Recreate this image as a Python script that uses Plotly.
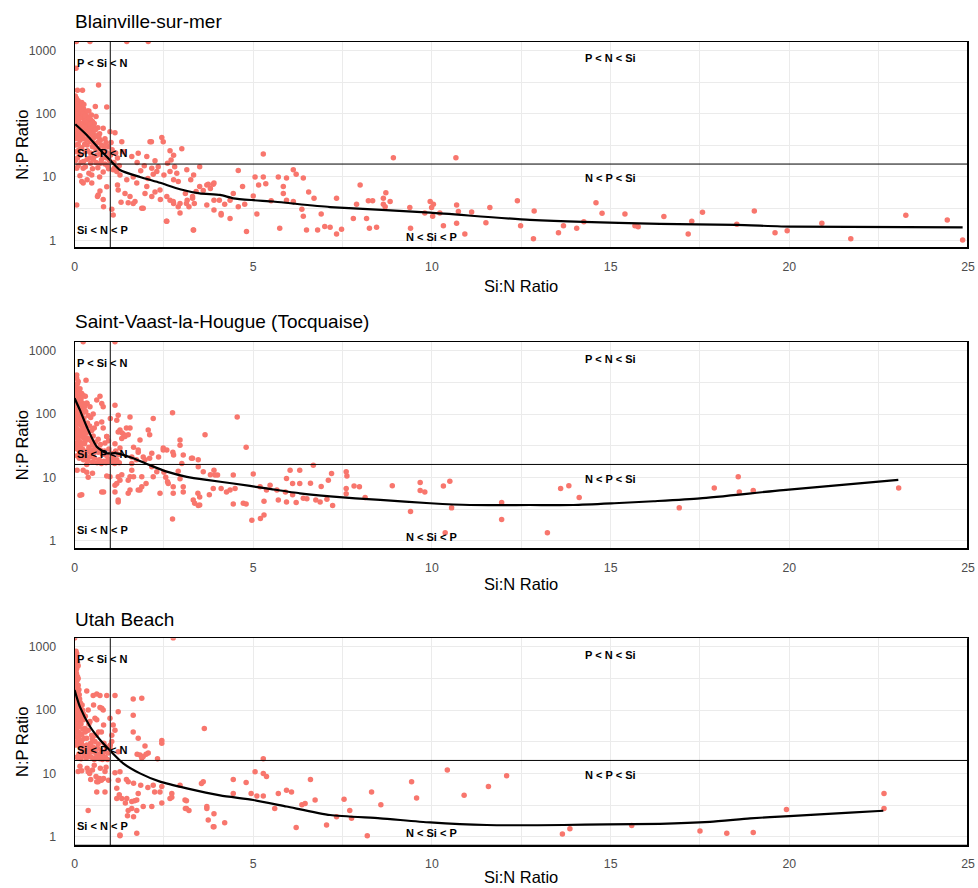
import numpy as np
import plotly.graph_objects as go

# ---------------- data ----------------
panel_titles = ["Blainville-sur-mer", "Saint-Vaast-la-Hougue (Tocquaise)", "Utah Beach"]
x_title = "Si:N Ratio"
y_title = "N:P Ratio"
x_major = [0, 5, 10, 15, 20, 25]
x_minor = [2.5, 7.5, 12.5, 17.5, 22.5]
y_major = [1, 10, 100, 1000]
y_minor = [3.162, 31.62, 316.2]
redfield_np = 16
redfield_sin = 1
zone_labels = ["P < Si < N", "Si < P < N", "Si < N < P", "P < N < Si", "N < P < Si", "N < Si < P"]
zone_x = [0.77, 0.77, 0.77, 15.0, 15.0, 10.0]
zone_y = [640, 23.7, 1.46, 750, 9.5, 1.14]

blainville_points = [
    (0.05, 1380), (0.43, 1380), (1.46, 1380), (2.06, 1380),
    (0.04, 520), (0.67, 285), (0.08, 235), (0.22, 235),
    (0.02, 190), (0.05, 175), (0.10, 160), (0.03, 150), (0.08, 140), (0.15, 130), (0.20, 150), (0.25, 120), (0.05, 115), (0.12, 110),
    (0.30, 105), (0.02, 100), (0.18, 95), (0.35, 90), (0.40, 110), (0.07, 88), (0.27, 82), (0.45, 80), (0.10, 78), (0.50, 75),
    (0.15, 72), (0.22, 68), (0.33, 65), (0.04, 62), (0.60, 90), (0.58, 130), (0.90, 128), (0.55, 70), (0.40, 60), (0.30, 58),
    (0.12, 55), (0.65, 60), (0.48, 55), (0.20, 50), (0.80, 59), (0.99, 52), (1.13, 50), (0.70, 48), (0.38, 45), (0.06, 45),
    (0.55, 42), (0.25, 40), (0.85, 40), (0.15, 38), (0.45, 36), (0.65, 35), (1.32, 36), (0.10, 33), (0.35, 32), (0.75, 32),
    (0.95, 30), (0.50, 30), (0.20, 29), (0.60, 27), (0.85, 26), (1.05, 27), (0.30, 25), (0.05, 25), (0.45, 24), (0.70, 23),
    (1.00, 22), (0.15, 22), (0.55, 21), (0.90, 20), (1.20, 20), (0.35, 19), (0.75, 18.5), (0.02, 18), (0.25, 17.5), (0.60, 17),
    (1.10, 17), (0.45, 16.5), (0.85, 16), (0.10, 15), (0.30, 14.5), (0.65, 14), (0.95, 13.5), (0.06, 13.7), (0.24, 13.7), (0.50, 13.5),
    (1.08, 13), (1.18, 12.2), (0.80, 12), (0.40, 11.5), (0.48, 10.7), (0.15, 10.5), (0.70, 10), (0.24, 8), (0.06, 3.6), (0.20, 8.5),
    (0.66, 5.2), (0.80, 4.4), (0.71, 6.0), (0.64, 4.9), (0.81, 3.4), (1.04, 3.1), (1.08, 2.5), (0.90, 7), (0.48, 8), (0.35, 9),
    (1.22, 6.2), (1.27, 10.7), (1.46, 9.0), (1.41, 5.5), (1.55, 4.9), (1.69, 4.1), (1.88, 3.2), (1.64, 10), (1.37, 25), (1.60, 21),
    (1.78, 23.6), (1.74, 8), (1.64, 3.8), (1.92, 3.2), (1.30, 4.0), (1.50, 3.9), (1.20, 7.5),
    (0.03, 85), (0.08, 70), (0.12, 95), (0.18, 120), (0.06, 130), (0.14, 60), (0.22, 90), (0.28, 75), (0.04, 40), (0.09, 50),
    (0.17, 45), (0.26, 55), (0.32, 48), (0.38, 70), (0.42, 38), (0.52, 48), (0.58, 33), (0.62, 45), (0.68, 28), (0.72, 38),
    (0.78, 25), (0.82, 30), (0.88, 35), (0.92, 24), (0.98, 18), (1.02, 35), (1.15, 24), (1.25, 15), (0.12, 27), (0.28, 33),
    (0.36, 26), (0.42, 20), (0.52, 19), (0.62, 22), (0.72, 16.5), (0.78, 20), (0.92, 15), (1.12, 14), (0.18, 17), (0.08, 20),
    (0.01, 120), (0.04, 105), (0.07, 98), (0.11, 125), (0.14, 85), (0.17, 105), (0.23, 100), (0.26, 140), (0.29, 92), (0.32, 78),
    (0.36, 110), (0.41, 85), (0.44, 68), (0.47, 95), (0.53, 62), (0.02, 70), (0.06, 58), (0.10, 65), (0.19, 58), (0.24, 47),
    (0.28, 62), (0.34, 38), (0.39, 52), (0.44, 45), (0.52, 35), (0.01, 48), (0.03, 32), (0.13, 42), (0.58, 55), (0.68, 42),
    (2.02, 21), (2.11, 36), (2.44, 42), (2.48, 36), (2.15, 36), (3.00, 28), (2.67, 26), (2.77, 22), (2.70, 18.5), (2.60, 16.5),
    (2.80, 14.5), (2.34, 14.5), (2.16, 13.7), (2.30, 12.2), (2.50, 10.7), (2.67, 12.2), (2.77, 9.0), (2.86, 11.5), (2.90, 8.5), (3.14, 13),
    (3.33, 10.7), (3.25, 9.0), (3.50, 14.5), (3.70, 7.5), (3.80, 6.6), (3.90, 8.0), (2.39, 6.2), (2.58, 4.9), (2.67, 4.3), (2.77, 3.8),
    (3.10, 5.5), (3.15, 4.3), (3.20, 3.4), (3.30, 4.9), (3.35, 3.8), (2.95, 2.7), (2.90, 3.4), (2.58, 2.0), (3.33, 1.45), (2.02, 7.1),
    (1.97, 5.5), (2.16, 4.9), (2.25, 5.8), (2.40, 4.4), (2.05, 9.5), (2.20, 11), (1.85, 12.5), (1.95, 15), (2.25, 18), (1.75, 17),
    (4.58, 12.6), (5.05, 10), (5.28, 10), (5.15, 7.5), (5.35, 7.8), (5.70, 10), (5.93, 9.6), (5.84, 7.1), (5.84, 5.5), (6.12, 13),
    (6.20, 11), (5.93, 4.3), (6.12, 4.1), (6.40, 9.6), (6.36, 3.1), (6.40, 2.4), (5.74, 1.55), (5.10, 2.6), (4.58, 3.4), (4.81, 1.37),
    (6.49, 1.45), (6.80, 1.45), (7.00, 1.65), (6.90, 2.6), (3.90, 3.0), (4.10, 2.66), (4.35, 4.3), (4.44, 5.5), (4.70, 7.1), (4.76, 3.7),
    (3.50, 7.1), (3.60, 6.1), (3.74, 7.7), (3.88, 7.7), (2.76, 4.1), (2.95, 3.8), (3.13, 3.8), (3.30, 4.6), (3.40, 5.9), (3.70, 3.6),
    (3.90, 4.3), (4.05, 4.3), (4.20, 3.7), (5.28, 23), (4.10, 2.5), (4.35, 2.2), (2.57, 2.0), (3.32, 1.45), (6.55, 5.8), (6.70, 4.6),
    (5.50, 4.2), (5.00, 5.0),
    (8.92, 20.2), (10.67, 20.2), (7.99, 7.5), (7.33, 4.6), (7.89, 3.7), (8.22, 4.2), (8.34, 4.2), (8.64, 4.6), (8.71, 5.65), (8.83, 4.1),
    (8.64, 3.7), (8.69, 3.4), (7.80, 2.2), (8.17, 2.2), (8.25, 1.55), (8.45, 1.6), (7.15, 1.6), (7.47, 1.5), (7.33, 1.26), (9.38, 3.3),
    (9.40, 1.55), (9.95, 4.1), (10.04, 3.7), (9.99, 3.3), (9.80, 2.7), (10.02, 2.4), (10.22, 2.7), (10.32, 1.7), (10.69, 3.6), (10.74, 2.85),
    (10.69, 1.85), (10.92, 1.26), (11.11, 2.8), (11.51, 1.9), (11.62, 3.3), (12.39, 4.2), (12.48, 1.7), (12.86, 2.9), (12.84, 1.06), (13.54, 1.32),
    (13.68, 1.7), (14.05, 1.55), (14.25, 1.97), (14.59, 3.9), (14.76, 2.67), (15.40, 2.6), (15.68, 1.7), (15.77, 1.64),
    (16.49, 2.37), (17.17, 1.26), (17.27, 2.0), (17.57, 2.77), (18.53, 1.79), (19.02, 2.9), (19.60, 1.32), (19.94, 1.42), (20.91, 1.85), (21.72, 1.06),
    (23.26, 2.48), (24.42, 2.09), (24.85, 1.01),
]
blainville_smooth = [
    (0.02, 68), (0.34, 46), (0.71, 27), (0.99, 18.5), (1.27, 12.9), (1.83, 10), (2.39, 8.1), (2.95, 6.4), (3.5, 5.5),
    (4.07, 5.2), (4.44, 4.6), (5.0, 4.3), (5.56, 4.1), (6.12, 3.8), (7.15, 3.35), (9.95, 2.73), (12.74, 2.1),
    (16.38, 1.81), (18.5, 1.75), (20.1, 1.64), (24.85, 1.6),
]

stvaast_points = [
    (0.24, 1380), (1.13, 1380),
    (0.06, 365), (0.10, 325), (0.32, 340), (0.06, 415), (0.08, 300),
    (0.02, 280), (0.05, 260), (0.08, 240), (0.12, 225), (0.15, 250), (0.20, 210), (0.25, 195), (0.03, 200), (0.10, 185), (0.18, 175),
    (0.30, 190), (0.05, 170), (0.14, 160), (0.22, 150), (0.35, 145), (0.08, 140), (0.28, 130), (0.62, 166), (0.34, 150), (0.43, 130),
    (0.71, 190), (0.76, 147), (0.80, 130),
    (0.02, 125), (0.06, 115), (0.11, 105), (0.16, 98), (0.21, 90), (0.26, 85), (0.31, 110), (0.38, 95), (0.45, 88), (0.52, 100),
    (0.03, 80), (0.09, 75), (0.14, 70), (0.19, 66), (0.24, 62), (0.30, 58), (0.36, 72), (0.42, 65), (0.48, 55), (0.55, 60),
    (0.62, 70), (0.76, 75), (0.80, 60), (0.90, 44), (0.05, 52), (0.12, 48), (0.18, 45), (0.25, 42), (0.33, 50), (0.40, 40),
    (0.46, 38), (0.52, 45), (0.58, 36), (0.66, 40), (0.72, 33), (0.85, 35), (0.95, 38),
    (0.04, 35), (0.10, 32), (0.16, 30), (0.22, 28), (0.28, 34), (0.34, 26), (0.40, 30), (0.47, 27), (0.53, 24), (0.60, 29),
    (0.66, 25), (0.72, 27), (0.78, 23), (0.84, 26), (0.90, 22), (0.96, 28), (1.02, 24), (1.08, 21), (1.15, 26), (1.22, 23),
    (0.07, 22), (0.13, 20), (0.19, 24), (0.25, 19), (0.31, 22), (0.37, 18), (0.43, 21), (0.50, 17.5), (0.56, 20), (0.63, 17),
    (0.69, 19), (0.75, 16.5), (0.82, 18), (0.88, 17), (0.94, 19.5), (1.00, 17.5), (1.06, 18.5), (1.12, 16.5), (1.18, 19), (1.25, 17),
    (0.01, 230), (0.04, 215), (0.07, 205), (0.11, 200), (0.16, 215), (0.03, 180), (0.06, 155), (0.09, 165), (0.12, 150), (0.17, 140),
    (0.01, 140), (0.04, 130), (0.07, 120), (0.10, 128), (0.13, 115), (0.17, 110), (0.20, 120), (0.23, 105), (0.01, 100), (0.04, 95),
    (0.07, 88), (0.10, 92), (0.13, 82), (0.16, 78), (0.20, 72), (0.25, 70), (0.01, 68), (0.04, 62), (0.07, 58), (0.10, 55),
    (0.14, 52), (0.20, 55), (0.27, 48), (0.01, 45), (0.06, 42), (0.10, 40), (0.16, 36), (0.22, 34), (0.30, 38), (0.36, 42),
    (0.01, 30), (0.07, 28), (0.13, 26), (0.20, 25), (0.27, 22), (0.35, 20), (0.43, 25), (0.50, 33), (0.56, 28),
    (1.13, 138), (1.18, 80), (1.55, 90), (1.27, 56), (1.33, 50), (1.38, 47), (1.41, 44), (1.45, 60), (1.22, 96), (1.00, 85),
    (1.22, 52), (1.32, 41), (1.55, 60), (1.50, 47), (2.20, 85), (2.06, 56), (2.10, 47), (2.74, 105), (2.95, 39), (2.95, 32),
    (3.65, 47), (1.83, 39), (1.78, 25), (2.16, 24), (1.97, 19), (2.10, 20), (2.35, 21), (2.58, 27), (2.77, 22.5), (3.04, 22.5),
    (3.27, 20), (3.46, 19), (3.30, 20), (1.78, 27), (1.65, 30), (1.60, 21), (1.73, 19), (1.92, 21), (2.48, 27), (2.48, 29),
    (2.75, 25), (3.00, 16.6), (4.55, 90), (4.80, 30), (1.13, 34), (1.27, 29), (0.90, 44),
    (0.07, 13), (0.34, 12), (0.38, 10), (0.50, 11.6), (0.81, 5.9), (0.20, 5.3), (0.15, 5.2), (1.22, 4.4), (1.50, 5.6), (1.32, 11),
    (1.55, 10.2), (1.27, 9), (1.83, 6.3), (1.88, 7.1), (1.55, 6.3), (2.39, 5.6), (2.50, 12), (2.55, 10), (2.60, 8.5), (2.90, 12.5),
    (2.95, 9.5), (3.45, 5.6), (3.50, 4.9), (3.36, 3.9), (3.50, 3.65), (2.74, 2.2), (3.80, 11), (3.90, 13), (0.24, 13), (0.34, 16),
    (0.99, 10.2), (0.90, 10.5), (1.13, 7.5), (1.22, 10.2), (1.18, 8), (1.13, 5.9), (1.22, 4.1), (0.76, 5.9), (1.60, 16.6), (1.60, 13),
    (1.65, 10.2), (1.50, 9), (2.16, 14.7), (2.30, 12.3), (2.20, 10.2), (2.00, 8), (1.88, 10.2), (1.78, 6.3), (3.46, 14.7), (3.60, 12.3),
    (3.93, 10.9), (4.00, 10.9), (4.44, 10.9), (5.00, 11.3), (5.47, 7.5), (5.19, 7.1), (5.37, 6.3), (4.49, 6.7), (4.72, 3.9), (4.44, 3.8),
    (4.80, 3.8), (4.96, 2.1), (5.20, 2.25), (5.30, 2.55), (3.46, 3.6), (3.32, 4.4), (3.04, 5.9), (3.04, 7.1), (2.62, 8), (2.76, 7.1),
    (2.76, 5.6), (3.77, 5.3), (3.88, 6.7), (4.10, 6.7), (4.25, 5.9), (4.35, 6.3), (6.03, 13), (6.30, 13), (6.68, 15.6), (5.93, 9.6),
    (6.10, 8), (6.30, 8), (5.90, 5.9), (6.10, 5.3), (6.40, 4.7), (6.75, 4.4), (7.06, 4.5), (5.70, 4.4), (5.93, 4.1), (6.20, 4.0),
    (6.50, 4.6), (5.66, 6.3), (6.87, 4.1), (7.10, 9), (6.90, 7.2), (6.60, 8.1), (5.30, 4.2),
    (7.19, 11.5), (7.60, 12.3), (7.62, 10.5), (7.60, 6.7), (7.60, 5.5), (7.82, 7.3), (7.97, 7.1), (8.13, 4.8), (7.22, 3.6), (8.89, 7.4),
    (9.67, 8.3), (9.67, 6.2), (9.80, 5.9), (9.40, 2.9), (10.32, 7.3), (10.50, 8.7), (10.55, 3.3), (10.37, 1.34), (11.95, 4.0), (11.95, 2.17),
    (13.23, 1.34), (13.60, 6.7), (13.83, 7.4), (14.12, 4.8), (16.92, 3.3), (17.90, 6.8), (18.57, 10.2), (18.60, 5.9), (18.99, 6.2), (23.06, 6.8),
]
stvaast_smooth = [
    (0.0, 177), (0.15, 115), (0.34, 63), (0.62, 30.5), (0.9, 24), (1.18, 24), (1.64, 20), (2.1, 15.6), (2.58, 12.3),
    (3.14, 10.2), (3.7, 9.1), (4.44, 8.0), (5.37, 6.7), (6.3, 5.6), (7.15, 5.0), (8.55, 4.4), (9.95, 3.9), (11.06, 3.66),
    (12.74, 3.66), (13.96, 3.66), (15.1, 3.9), (16.2, 4.2), (17.5, 4.66), (19.83, 6.3), (23.05, 9.1),
]

utah_points = [
    (0.00, 1380), (2.76, 1380),
    (0.06, 780), (0.04, 850), (0.04, 700), (0.05, 640), (0.08, 560), (0.10, 500), (0.06, 455), (0.04, 430), (0.02, 355), (0.10, 315),
    (0.03, 280), (0.07, 295), (0.10, 247),
    (0.02, 220), (0.05, 200), (0.09, 190), (0.13, 175), (0.03, 165), (0.07, 150), (0.11, 140), (0.16, 130), (0.21, 120), (0.04, 120),
    (0.08, 110), (0.13, 100), (0.18, 95), (0.24, 88), (0.02, 90), (0.06, 80), (0.10, 74), (0.15, 70), (0.20, 78),
    (0.01, 600), (0.03, 520), (0.02, 400), (0.05, 380), (0.08, 340), (0.01, 300), (0.05, 260), (0.08, 230), (0.12, 210), (0.01, 180),
    (0.05, 160), (0.09, 160), (0.14, 150), (0.01, 140), (0.05, 130), (0.10, 125), (0.16, 110), (0.22, 100), (0.01, 110), (0.04, 100),
    (0.08, 92), (0.12, 85), (0.17, 80), (0.25, 70), (0.30, 80), (0.01, 75), (0.04, 65), (0.08, 60), (0.12, 55), (0.18, 60),
    (0.23, 50), (0.30, 45), (0.38, 48), (0.02, 52), (0.06, 48), (0.11, 45), (0.20, 42), (0.27, 36), (0.02, 38), (0.07, 32),
    (0.12, 29), (0.16, 26), (0.23, 23), (0.30, 21), (0.45, 30), (0.50, 35), (0.60, 40), (0.75, 45), (0.40, 60),
    (0.34, 200), (0.52, 170), (0.62, 180), (0.71, 170), (0.90, 170), (1.13, 170), (0.76, 107), (1.22, 94), (0.53, 120), (0.57, 74),
    (0.43, 66), (0.99, 74), (0.81, 58), (0.67, 45), (0.48, 40), (0.57, 32), (0.29, 51), (0.15, 40), (0.34, 36), (0.38, 100),
    (0.62, 70), (0.71, 110), (0.80, 100), (1.08, 58), (1.13, 48), (1.04, 40), (1.64, 150), (1.88, 153), (1.64, 83), (1.64, 45),
    (1.78, 36), (1.97, 27), (2.44, 33), (2.44, 30), (2.32, 17), (3.63, 51), (1.22, 22), (1.04, 32), (1.00, 28), (0.99, 25),
    (0.04, 45), (0.09, 38), (0.14, 34), (0.19, 30), (0.24, 27), (0.29, 25), (0.34, 28), (0.39, 23), (0.44, 26), (0.49, 22),
    (0.54, 24), (0.59, 21), (0.64, 25), (0.69, 20), (0.74, 23), (0.79, 19), (0.84, 22), (0.89, 26), (0.94, 21), (0.06, 18),
    (0.12, 20), (0.18, 17), (0.26, 19), (0.33, 17.5), (0.40, 20), (0.47, 18), (0.55, 16.5), (0.62, 18.5), (0.70, 17), (0.78, 16.5),
    (0.86, 18), (0.92, 16.5), (0.10, 18), (0.36, 23), (0.52, 26), (0.66, 29), (0.82, 30), (0.04, 28), (0.20, 33),
    (1.83, 19.5), (1.92, 18.5), (2.06, 21), (2.00, 20), (1.88, 17.5), (1.75, 20),
    (0.10, 10.7), (0.20, 11), (0.38, 10.6), (0.50, 11.3), (0.42, 10), (0.60, 8.9), (0.70, 8.3), (0.75, 7.8), (0.66, 7.4), (1.13, 10.2),
    (1.18, 5.8), (1.18, 4.0), (1.32, 4.0), (1.46, 4.0), (1.22, 7.8), (1.50, 7.4), (1.50, 2.6), (1.48, 2.15), (1.68, 3.7), (1.78, 4.8),
    (1.74, 1.13), (1.27, 1.04), (0.38, 2.6), (1.92, 3.0), (2.16, 3.0), (2.20, 6.5), (2.24, 5.1), (2.44, 6.2), (2.72, 4.2), (2.44, 3.4),
    (0.62, 7.4), (0.81, 8.3), (0.85, 10.7), (0.95, 7.8), (1.27, 10.6), (1.45, 8.0), (1.65, 7.0), (1.85, 6.5), (2.05, 6.0), (0.62, 5.1),
    (0.85, 5.1), (1.25, 4.6), (1.42, 3.4), (1.60, 3.6), (1.74, 3.8), (1.60, 2.8), (1.74, 2.6), (1.65, 2.07), (1.27, 1.06), (2.39, 5.1),
    (2.67, 4.0), (2.72, 4.8), (3.09, 3.8), (3.13, 2.8), (3.70, 3.0), (3.74, 1.83), (3.88, 1.44), (3.60, 7.4), (2.95, 6.5), (0.35, 12),
    (0.15, 13), (0.55, 13.5), (0.72, 12), (0.45, 8), (0.88, 12.5),
    (3.10, 2.8), (3.20, 2.6), (3.13, 3.7), (3.55, 6.9), (4.44, 8.0), (4.80, 7.2), (4.94, 4.8), (4.44, 4.8), (5.10, 4.4), (5.28, 4.4),
    (5.05, 10.6), (5.28, 10.0), (5.37, 8.9), (5.28, 17), (3.70, 2.8), (3.90, 1.44), (4.20, 1.66), (5.70, 4.8), (5.60, 2.8), (5.93, 5.4),
    (6.07, 5.1), (6.60, 8.0), (6.36, 3.2), (6.45, 3.35), (6.73, 3.8), (6.20, 1.4), (7.05, 1.53), (3.90, 2.3),
    (7.33, 2.07), (7.54, 3.9), (7.70, 2.6), (7.75, 1.95), (8.19, 1.04), (8.31, 5.1), (8.57, 3.2), (9.43, 7.4), (9.57, 4.1), (10.43, 11.3),
    (10.90, 4.5), (11.58, 6.2), (12.09, 9.2), (13.65, 1.1), (13.86, 1.34), (15.59, 1.5), (17.50, 1.23), (18.25, 1.13), (18.99, 1.17), (19.92, 2.7),
    (22.65, 4.8), (22.65, 2.8),
]
utah_smooth = [
    (0.0, 207), (0.15, 112), (0.43, 55), (0.71, 34), (0.99, 23), (1.36, 14.4), (1.83, 10), (2.39, 7.4), (3.14, 5.8),
    (4.07, 4.5), (5.0, 3.8), (5.93, 3.0), (7.15, 2.2), (8.55, 1.95), (9.95, 1.68), (11.53, 1.53), (13.68, 1.53),
    (14.9, 1.57), (16.38, 1.6), (17.78, 1.72), (18.9, 1.95), (20.0, 2.12), (21.7, 2.4), (22.63, 2.57),
]

panels_points = [blainville_points, stvaast_points, utah_points]
panels_smooth = [blainville_smooth, stvaast_smooth, utah_smooth]

# ---------------- layout geometry ----------------
W, H = 978, 888
x_dom = [74.6 / W, 968 / W]
panel_px = [(41.7, 248.0), (341.7, 549.0), (638.3, 845.7)]
y_ranges = [(-0.122, 3.137), (-0.131, 3.142), (-0.142, 3.133)]
title_py = [21, 321, 619]
xtitle_py = [286, 584, 877]

FONT = "Liberation Sans, Arial, sans-serif"
POINT_COLOR = "#F8766D"
GRID = "#EBEBEB"

fig = go.Figure()
layout = dict(
    width=W, height=H, margin=dict(l=0, r=0, t=0, b=0),
    paper_bgcolor="white", plot_bgcolor="white", showlegend=False,
    font=dict(family=FONT),
)
annotations = []
shapes = []

x_tickvals = sorted(x_major + x_minor)
x_ticktext = [str(v) if v in x_major else "" for v in x_tickvals]
y_tickvals = sorted(y_major + y_minor)
y_ticktext = [str(v) if v in y_major else "" for v in y_tickvals]

for i in range(3):
    sfx = "" if i == 0 else str(i + 1)
    xa, ya = "x" + sfx, "y" + sfx
    top, bot = panel_px[i]
    ydom = [1 - bot / H, 1 - top / H]
    ax_common = dict(showline=True, mirror=True, linecolor="black", linewidth=1,
                     showgrid=True, gridcolor=GRID, gridwidth=1, zeroline=False,
                     ticks="outside", tickcolor="rgba(0,0,0,0)",
                     tickfont=dict(family=FONT, size=12.3, color="#4D4D4D"),
                     automargin=False)
    layout["xaxis" + sfx] = dict(ax_common, domain=x_dom, range=[0, 25], anchor=ya,
                                 tickmode="array", tickvals=x_tickvals, ticktext=x_ticktext, ticklen=7)
    layout["yaxis" + sfx] = dict(ax_common, domain=ydom, type="log", range=list(y_ranges[i]), anchor=xa,
                                 tickmode="array", tickvals=y_tickvals, ticktext=y_ticktext, ticklen=15)

    pts = panels_points[i]
    fig.add_trace(go.Scatter(x=[p[0] for p in pts], y=[p[1] for p in pts], mode="markers",
                             marker=dict(color=POINT_COLOR, size=5.5, line=dict(width=0)),
                             xaxis=xa, yaxis=ya, hoverinfo="skip"))
    sm = panels_smooth[i]
    fig.add_trace(go.Scatter(x=[p[0] for p in sm], y=[p[1] for p in sm], mode="lines",
                             line=dict(color="black", width=2.2, shape="spline", smoothing=0.6),
                             xaxis=xa, yaxis=ya, hoverinfo="skip"))
    fig.add_trace(go.Scatter(x=[0, 25], y=[redfield_np, redfield_np], mode="lines",
                             line=dict(color="black", width=1), xaxis=xa, yaxis=ya, hoverinfo="skip"))
    fig.add_trace(go.Scatter(x=[redfield_sin, redfield_sin], y=[0.5, 3000], mode="lines",
                             line=dict(color="#333333", width=1.2), xaxis=xa, yaxis=ya, hoverinfo="skip"))

    shapes.append(dict(type="line", xref=xa + " domain", yref=ya + " domain", x0=0, x1=1, y0=0, y1=0,
                       line=dict(color="black", width=2)))
    shapes.append(dict(type="line", xref=xa + " domain", yref=ya + " domain", x0=1, x1=1, y0=0, y1=1,
                       line=dict(color="black", width=2)))

    for lab, zx, zy in zip(zone_labels, zone_x, zone_y):
        annotations.append(dict(x=zx, y=np.log10(zy), xref=xa, yref=ya, text="<b>" + lab + "</b>",
                                showarrow=False, xanchor="center", yanchor="middle",
                                font=dict(family=FONT, size=11, color="black")))
    annotations.append(dict(x=73 / W, y=1 - title_py[i] / H, xref="paper", yref="paper",
                            text=panel_titles[i], showarrow=False, xanchor="left", yanchor="middle",
                            font=dict(family=FONT, size=19, color="black")))
    annotations.append(dict(x=(x_dom[0] + x_dom[1]) / 2, y=1 - xtitle_py[i] / H, xref="paper", yref="paper",
                            text=x_title, showarrow=False, xanchor="center", yanchor="middle",
                            font=dict(family=FONT, size=16.5, color="black")))
    annotations.append(dict(x=22 / W, y=1 - (top + bot) / 2 / H, xref="paper", yref="paper",
                            text=y_title, showarrow=False, xanchor="center", yanchor="middle", textangle=-90,
                            font=dict(family=FONT, size=16.5, color="black")))

layout["annotations"] = annotations
layout["shapes"] = shapes
fig.update_layout(**layout)
fig.write_html("out.html")
